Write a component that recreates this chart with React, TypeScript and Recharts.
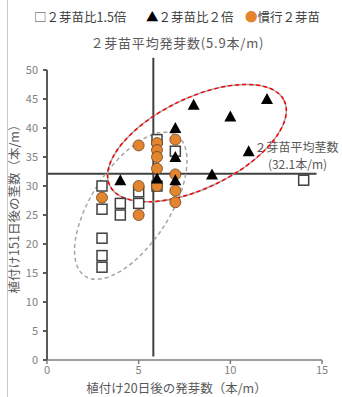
import React from "react"
import { ScatterChart, Scatter, XAxis, YAxis, ReferenceLine, ReferenceDot, Label } from "recharts"

// 植付け20日後の発芽数 (x) と 植付け151日後の茎数 (y)
const ratio15Points = [
  { x: 3, y: 30 }, { x: 3, y: 26 }, { x: 3, y: 21 }, { x: 3, y: 18 }, { x: 3, y: 16 },
  { x: 4, y: 27 }, { x: 4, y: 25 },
  { x: 5, y: 29 }, { x: 5, y: 27 },
  { x: 6, y: 38 }, { x: 6, y: 30 },
  { x: 7, y: 36 },
  { x: 14, y: 31 },
]
const ratio2Points = [
  { x: 4, y: 31 }, { x: 6, y: 31.3 },
  { x: 7, y: 40 }, { x: 7, y: 35 }, { x: 7, y: 31 },
  { x: 8, y: 44 }, { x: 9, y: 32 }, { x: 10, y: 42 }, { x: 11, y: 36 }, { x: 12, y: 45 },
]
const conventionalPoints = [
  { x: 3, y: 28 },
  { x: 5, y: 37 }, { x: 5, y: 30 }, { x: 5, y: 25 },
  { x: 6, y: 37.4 }, { x: 6, y: 36.2 }, { x: 6, y: 35 }, { x: 6, y: 33 }, { x: 6, y: 30 },
  { x: 7, y: 38 }, { x: 7, y: 32 }, { x: 7, y: 29.2 }, { x: 7, y: 27.2 },
]
const xTicks = [0, 5, 10, 15]
const yTicks = [0, 5, 10, 15, 20, 25, 30, 35, 40, 45, 50]

const meanEmergence = 5.8
const meanStems = 32.1
const emergenceLabel = "２芽苗平均発芽数(5.9本/m)"
const stemsLabel = ["２芽苗平均茎数", "(32.1本/m)"]

// 囲み楕円の中心
const ratio2Group = { x: 8.18, y: 37.4 }
const ratio15Group = { x: 4.57, y: 26.6 }

const font = "'Noto Sans CJK JP', 'Noto Sans', sans-serif"
const textColor = "#595959"
const orange = "#e3852f"

const Square = (p: any) => (
  <rect x={p.cx - 5} y={p.cy - 5} width={10} height={10} fill="#fff" stroke="#404040" strokeWidth={1.5} />
)
const Triangle = (p: any) => (
  <polygon points={`${p.cx},${p.cy - 6} ${p.cx - 6},${p.cy + 5} ${p.cx + 6},${p.cy + 5}`} fill="#000" />
)
const Dot = (p: any) => <circle cx={p.cx} cy={p.cy} r={5.5} fill={orange} stroke="#6b4420" strokeWidth={0.8} />

const RedEllipse = (p: any) => (
  <g transform={`rotate(-26 ${p.cx} ${p.cy})`}>
    <ellipse cx={p.cx} cy={p.cy} rx={97} ry={45} fill="none" stroke="#a6a6a6" strokeWidth={1.5} />
    <ellipse cx={p.cx} cy={p.cy} rx={97} ry={45} fill="none" stroke="#ff0000" strokeWidth={1.5} strokeDasharray="4 3" />
  </g>
)
const GrayEllipse = (p: any) => (
  <ellipse
    cx={p.cx}
    cy={p.cy}
    rx={84}
    ry={39}
    transform={`rotate(-57 ${p.cx} ${p.cy})`}
    fill="none"
    stroke="#a6a6a6"
    strokeWidth={1.5}
    strokeDasharray="4 3"
  />
)

const EmergenceTitle = ({ viewBox }: any) => (
  <text
    x={viewBox.x + 24}
    y={viewBox.y - 10}
    textAnchor="middle"
    fontSize={13}
    letterSpacing={0.8}
    fill={textColor}
    fontFamily={font}
  >
    {emergenceLabel}
  </text>
)
const StemsNote = ({ viewBox }: any) => {
  const endX = viewBox.x + viewBox.width
  return (
    <g fontFamily={font} fill={textColor}>
      <text x={endX - 62} y={viewBox.y - 22} fontSize={12}>{stemsLabel[0]}</text>
      <text x={endX - 19} y={viewBox.y - 5} fontSize={12} textAnchor="middle">{stemsLabel[1]}</text>
    </g>
  )
}

const legendItems = [
  { mark: "□", text: "２芽苗比1.5倍", color: "#404040", left: 34 },
  { mark: "▲", text: "２芽苗比２倍", color: "#000", left: 146 },
  { mark: "●", text: "慣行２芽苗", color: orange, left: 245 },
]

export default function App() {
  const tick = { fontSize: 11, fill: "#7f7f7f", fontFamily: font }
  return (
    <div style={{ position: "absolute", left: 0, top: 0, width: 342, height: 397, background: "#fff", fontFamily: font }}>
      <div style={{ position: "absolute", left: 7, top: 0, width: 1, height: 397, background: "#c8c8c8" }} />
      {legendItems.map((it) => (
        <div
          key={it.text}
          style={{ position: "absolute", left: it.left, top: 8, fontSize: 12.5, lineHeight: "18px", color: "#404040", whiteSpace: "nowrap" }}
        >
          <span style={{ color: it.color }}>{it.mark}</span>
          {it.text}
        </div>
      ))}
      <ScatterChart width={342} height={397} margin={{ top: 70, right: 20, bottom: 0, left: 8 }}>
        <XAxis
          type="number"
          dataKey="x"
          domain={[0, 15]}
          ticks={xTicks}
          height={37}
          tick={tick}
          tickSize={4}
          tickMargin={2}
          stroke="#7f7f7f"
          strokeWidth={1.5}
        >
          <Label value="植付け20日後の発芽数（本/m）" position="insideBottom" offset={4} dx={-8} fontSize={12.5} fill={textColor} fontFamily={font} />
        </XAxis>
        <YAxis
          type="number"
          dataKey="y"
          domain={[0, 50]}
          ticks={yTicks}
          width={39}
          tick={tick}
          tickSize={4}
          tickMargin={5}
          stroke="#595959"
          strokeWidth={2}
        >
          <Label value="植付け151日後の茎数（本/m）" position="center" angle={-90} dx={-12.5} dy={-9} fontSize={12.5} fill={textColor} fontFamily={font} />
        </YAxis>
        <ReferenceDot x={ratio15Group.x} y={ratio15Group.y} shape={GrayEllipse} />
        <ReferenceDot x={ratio2Group.x} y={ratio2Group.y} shape={RedEllipse} />
        <ReferenceLine
          segment={[{ x: meanEmergence, y: 0.6 }, { x: meanEmergence, y: 52.1 }]}
          stroke="#404040"
          strokeWidth={2}
          ifOverflow="visible"
          label={EmergenceTitle}
        />
        <ReferenceLine
          segment={[{ x: 0, y: meanStems }, { x: 14.7, y: meanStems }]}
          stroke="#404040"
          strokeWidth={2}
          ifOverflow="visible"
          label={StemsNote}
        />
        <Scatter data={ratio15Points} shape={Square} isAnimationActive={false} />
        <Scatter data={conventionalPoints} shape={Dot} isAnimationActive={false} />
        <Scatter data={ratio2Points} shape={Triangle} isAnimationActive={false} />
      </ScatterChart>
    </div>
  )
}
